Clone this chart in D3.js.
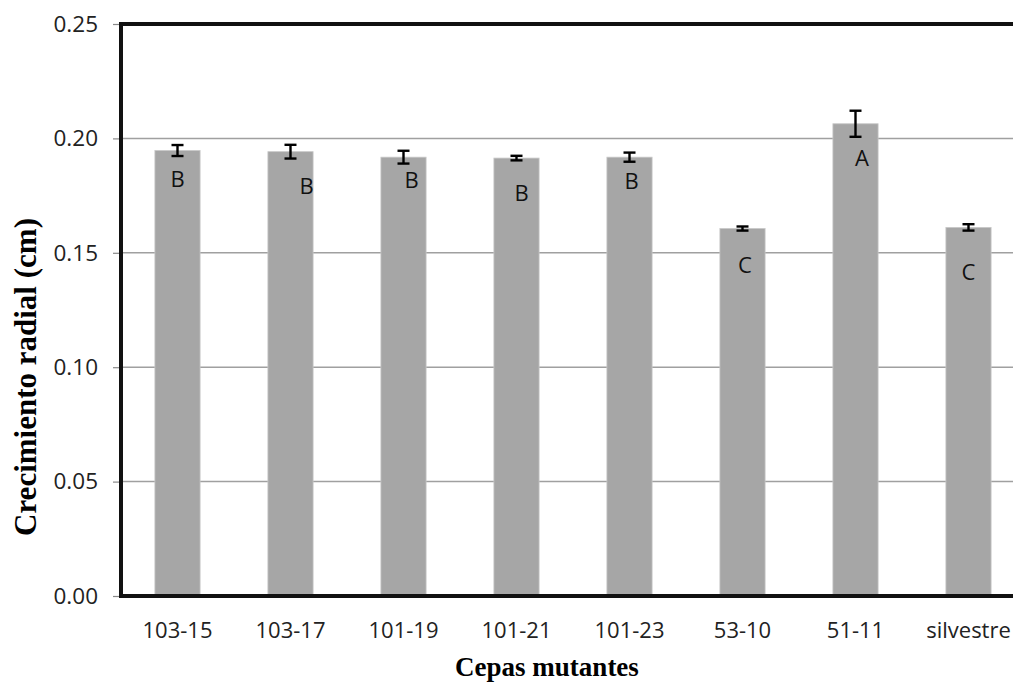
<!DOCTYPE html>
<html>
<head>
<meta charset="utf-8">
<script src="https://cdn.jsdelivr.net/npm/d3@7"></script>
<style>
  html, body { margin: 0; padding: 0; background: #fff; }
  svg { display: block; }
</style>
</head>
<body>
<svg id="chart" width="1013" height="689"></svg>
<script>
// Radial growth of mutant strains (mean ± error) with significance groups
const categories = ["103-15", "103-17", "101-19", "101-21", "101-23", "53-10", "51-11", "silvestre"];
const means      = [0.1947, 0.1942, 0.1918, 0.1914, 0.1918, 0.1606, 0.2064, 0.1611];
const errors     = [0.0024, 0.0030, 0.0028, 0.0010, 0.0020, 0.0009, 0.0057, 0.0014];
const groups     = ["B", "B", "B", "B", "B", "C", "A", "C"];
const yTicks     = [0, 0.05, 0.10, 0.15, 0.20, 0.25];

const svg = d3.select("#chart");

const plotLeft = 121, plotRight = 1025, plotTop = 24, plotBottom = 596;

const x = d3.scaleBand()
  .domain(categories)
  .range([plotLeft, plotRight])
  .paddingInner(0.6)
  .paddingOuter(0.3);

const y = d3.scaleLinear().domain([0, 0.25]).range([plotBottom, plotTop]);

// horizontal gridlines
svg.append("g")
  .selectAll("line")
  .data(yTicks.filter(t => t > 0 && t < 0.25))
  .join("line")
  .attr("x1", plotLeft).attr("x2", 1013)
  .attr("y1", d => y(d)).attr("y2", d => y(d))
  .attr("stroke", "#a0a0a0")
  .attr("stroke-width", 1.5);

// bars
const rows = categories.map((c, i) => ({ c, m: means[i], e: errors[i], g: groups[i] }));

svg.append("g")
  .selectAll("rect")
  .data(rows)
  .join("rect")
  .attr("x", d => x(d.c))
  .attr("width", x.bandwidth())
  .attr("y", d => y(d.m))
  .attr("height", d => y(0) - y(d.m))
  .attr("fill", "#a6a6a6")
  .attr("stroke", "#c8c8c8")
  .attr("stroke-width", 0.8);

// error bars
const eb = svg.append("g").attr("stroke", "#000").attr("stroke-width", 2.4);
rows.forEach(d => {
  const cx = x(d.c) + x.bandwidth() / 2;
  const y0 = y(d.m - d.e), y1 = y(d.m + d.e);
  eb.append("line").attr("x1", cx).attr("x2", cx).attr("y1", y0).attr("y2", y1);
  eb.append("line").attr("x1", cx - 6).attr("x2", cx + 6).attr("y1", y0).attr("y2", y0);
  eb.append("line").attr("x1", cx - 6).attr("x2", cx + 6).attr("y1", y1).attr("y2", y1);
});

// group letters, nudged inside each bar
const letterNudge = [[0, 29], [16, 35], [8, 23], [5, 35], [2, 24], [2.5, 37], [6.5, 35], [0, 45]];
svg.append("g")
  .selectAll("text")
  .data(rows)
  .join("text")
  .attr("x", (d, i) => x(d.c) + x.bandwidth() / 2 + letterNudge[i][0])
  .attr("y", (d, i) => y(d.m) + letterNudge[i][1])
  .attr("dy", "0.35em")
  .attr("text-anchor", "middle")
  .attr("font-family", "Open Sans, sans-serif")
  .attr("font-size", 22)
  .attr("fill", "#111")
  .text(d => d.g);

// y axis
const yAxis = svg.append("g")
  .attr("transform", `translate(${plotLeft},0)`)
  .call(d3.axisLeft(y).tickValues(yTicks).tickFormat(d3.format(".2f")).tickSize(8).tickPadding(15));
yAxis.select(".domain").remove();
yAxis.selectAll(".tick line").attr("stroke", "#888").attr("stroke-width", 1.2);
yAxis.selectAll(".tick text")
  .attr("font-family", "Open Sans, sans-serif")
  .attr("font-size", 22.5)
  .attr("fill", "#222");

// x axis labels
const xAxis = svg.append("g")
  .attr("transform", `translate(0,${plotBottom})`)
  .call(d3.axisBottom(x).tickSize(0).tickPadding(26));
xAxis.select(".domain").remove();
xAxis.selectAll(".tick text")
  .attr("font-family", "Open Sans, sans-serif")
  .attr("font-size", 22)
  .attr("fill", "#222");

// frame: left axis, bottom axis, top border
svg.append("line").attr("x1", plotLeft).attr("x2", plotLeft).attr("y1", plotTop - 2).attr("y2", plotBottom + 2)
  .attr("stroke", "#111").attr("stroke-width", 4);
svg.append("line").attr("x1", plotLeft - 2).attr("x2", 1013).attr("y1", plotBottom).attr("y2", plotBottom)
  .attr("stroke", "#111").attr("stroke-width", 4);
svg.append("line").attr("x1", plotLeft - 2).attr("x2", 1013).attr("y1", plotTop).attr("y2", plotTop)
  .attr("stroke", "#111").attr("stroke-width", 4);

// axis titles
svg.append("text")
  .attr("transform", "translate(36,377) rotate(-90)")
  .attr("text-anchor", "middle")
  .attr("font-family", "Liberation Serif, Times New Roman, serif")
  .attr("font-weight", "bold")
  .attr("font-size", 31)
  .attr("fill", "#000")
  .text("Crecimiento radial (cm)");

svg.append("text")
  .attr("x", 547)
  .attr("y", 676)
  .attr("text-anchor", "middle")
  .attr("font-family", "Liberation Serif, Times New Roman, serif")
  .attr("font-weight", "bold")
  .attr("font-size", 27)
  .attr("fill", "#000")
  .text("Cepas mutantes");
</script>
</body>
</html>
